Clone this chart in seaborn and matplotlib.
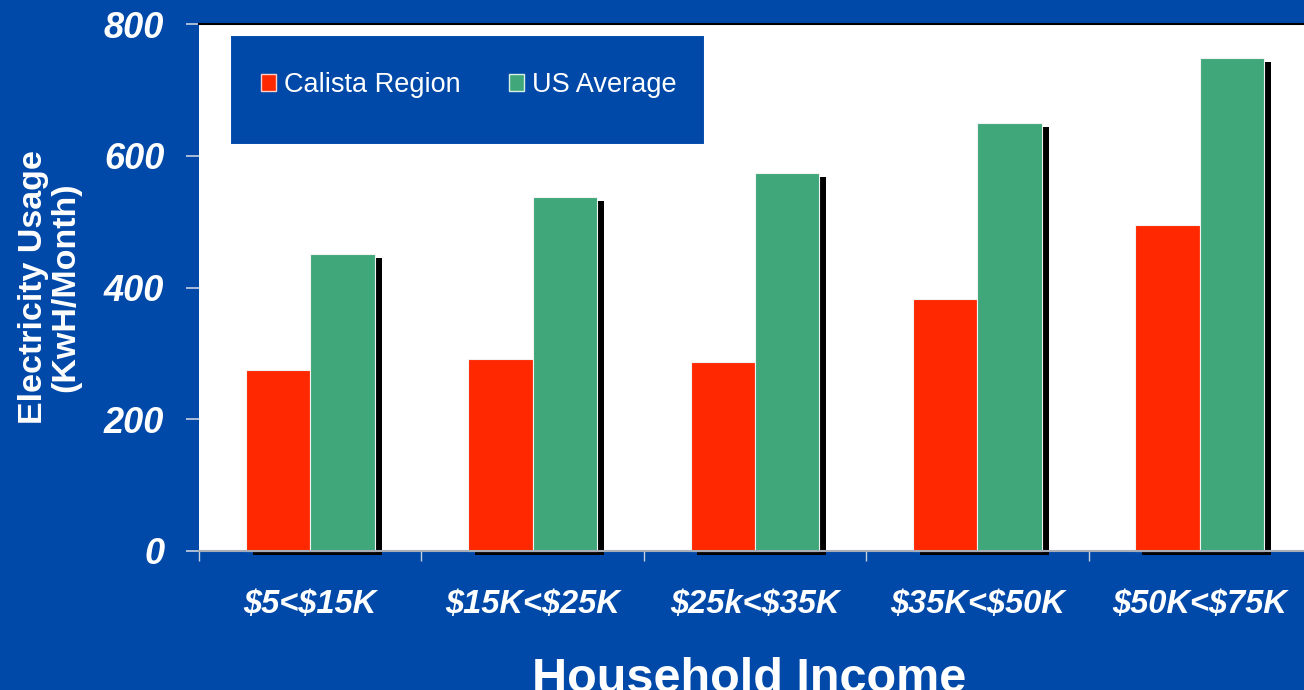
import pandas as pd
import matplotlib.pyplot as plt
import matplotlib.patheffects as pe
from matplotlib.patches import Patch, Rectangle
from matplotlib.ticker import FixedLocator
import seaborn as sns

# Household income brackets and monthly electricity usage (KwH/Month)
incomes = ["$5<$15K", "$15K<$25K", "$25k<$35K", "$35K<$50K", "$50K<$75K"]
calista = [275, 291, 287, 383, 495]
us_avg = [451, 537, 574, 649, 749]
series_names = ["Calista Region", "US Average"]

BLUE = "#0049A9"
RED = "#FF2800"
GREEN = "#40A77B"

sns.set_style("white")
plt.rcParams["font.family"] = ["Liberation Sans", "DejaVu Sans"]
plt.rcParams["text.parse_math"] = False  # dollar signs are literal

df = pd.DataFrame({
    "Income": incomes * 2,
    "Usage": calista + us_avg,
    "Series": [series_names[0]] * len(incomes) + [series_names[1]] * len(incomes),
})

fig = plt.figure(figsize=(13.04, 6.90), dpi=100)
fig.patch.set_facecolor(BLUE)
ax = fig.add_axes([199 / 1304, 139 / 690, 1112 / 1304, 527 / 690])
ax.set_facecolor("white")

sns.barplot(data=df, x="Income", y="Usage", hue="Series", order=incomes,
            hue_order=series_names, palette=[RED, GREEN], width=0.58,
            saturation=1, legend=False, ax=ax, edgecolor="#f2f2f2", linewidth=0.8)

# drop shadow behind each bar
for bar in ax.patches:
    bar.set_clip_on(False)
    bar.set_path_effects([
        pe.SimplePatchShadow(offset=(5.0, -2.9), shadow_rgbFace="black", alpha=1.0),
        pe.Normal(),
    ])

ax.set_xlim(-0.5, 4.5)
ax.set_ylim(0, 800)
ax.set_yticks([0, 200, 400, 600, 800])

# tick styling
ax.tick_params(axis="y", which="major", direction="out", length=9.5, width=1.2,
               color="#c8d0e0", pad=15.5, labelsize=26, labelcolor="white", left=True)
for lab in ax.get_yticklabels():
    lab.set_fontweight("bold")
    lab.set_fontstyle("italic")

ax.xaxis.set_minor_locator(FixedLocator([-0.5, 0.5, 1.5, 2.5, 3.5, 4.5]))
ax.tick_params(axis="x", which="major", length=0, pad=27, labelsize=23.5,
               labelcolor="white")
ax.tick_params(axis="x", which="minor", direction="out", length=7, width=1.0,
               color="#c8d0e0", bottom=True)
for lab in ax.get_xticklabels():
    lab.set_fontweight("bold")
    lab.set_fontstyle("italic")

ax.set_xlabel("")
ax.set_ylabel("Electricity Usage\n(KwH/Month)", fontsize=24.5, fontweight="bold",
              color="white", linespacing=1.05, va="center")
ax.yaxis.set_label_coords(-0.134, 0.5)

for side in ["left", "right"]:
    ax.spines[side].set_visible(False)
ax.spines["top"].set_color("black")
ax.spines["top"].set_linewidth(1.5)
ax.spines["bottom"].set_color("#a8aeb8")
ax.spines["bottom"].set_linewidth(1.5)

# legend box drawn as its own rectangle, legend entries placed inside
ax.add_patch(Rectangle((31 / 1112, 406 / 527), 475 / 1112, 110 / 527,
                       transform=ax.transAxes, facecolor=BLUE, edgecolor="white",
                       linewidth=1.5, zorder=5))
handles = [Patch(facecolor=RED, edgecolor="#ffd0c8", linewidth=1.0),
           Patch(facecolor=GREEN, edgecolor="#d8f0e4", linewidth=1.0)]
leg = ax.legend(handles, series_names, loc="center left",
                bbox_to_anchor=(62 / 1112, 466 / 527), ncol=2, frameon=False,
                fontsize=19.5, handlelength=0.55, handleheight=0.55,
                handletextpad=0.3, columnspacing=1.8, borderpad=0, borderaxespad=0)
leg.set_zorder(6)
for t in leg.get_texts():
    t.set_color("white")

fig.text(749 / 1304, -2 / 690, "Household Income", ha="center", va="baseline",
         fontsize=35, fontweight="bold", color="white")

fig.savefig("out.png", dpi=100, facecolor=BLUE)
